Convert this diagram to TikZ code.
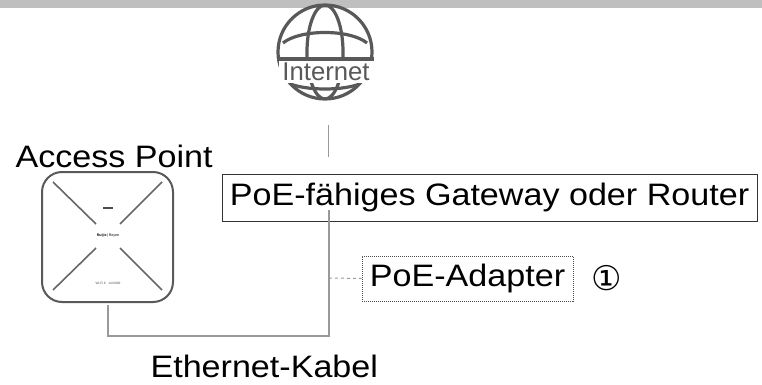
\documentclass[tikz,border=0pt]{standalone}
\usepackage{fontspec}
\setmainfont{Liberation Sans}
\newfontfamily\labelfont[FakeStretch=1.1]{Liberation Sans}
\newfontfamily\numfont{DejaVu Sans}
\usetikzlibrary{positioning}

\tikzset{
  globeline/.style={draw=black!65, line width=3.2pt},
  apframe/.style={draw=black!65, line width=2pt, rounded corners=20pt},
  apslot/.style={draw=black!60, line width=1.6pt},
  cable/.style={draw=black!40, line width=1.2pt},
  labelbox/.style={draw=black!80, line width=1pt, inner sep=0pt},
  biglabel/.style={font=\labelfont\fontsize{31}{38}\selectfont},
}

\begin{document}
\begin{tikzpicture}[x=1pt,y=-1pt]
\useasboundingbox (0,0) rectangle (762,385);
\fill[black!25] (0,0) rectangle (762,8); % top strip

% globe
\begin{scope}
\clip (325,52) circle (47);
\draw[globeline] (325,52) ellipse (18 and 47);
\draw[globeline] (283,43) .. controls (300,29) and (350,29) .. (367,43); %
\draw[globeline] (288,83) .. controls (305,91) and (345,91) .. (362,83);
\end{scope}
\draw[globeline] (325,52) circle (47);
\draw[globeline] (277,59) -- (374,59);
\node[fill=white, inner sep=0pt, minimum width=94pt, minimum height=22pt,
      text=black!65, font=\fontsize{25.7}{28}\selectfont] (net) at (326,72) {Internet};
\coordinate (nettail) at (328,125);
\coordinate (nethead) at (328,157);
\draw[cable, line width=1pt] (nettail) -- (nethead);

% access point
\node[anchor=base west, biglabel] (aplabel) at (12,167) {Access Point};
\draw[apframe] (42,172) rectangle (173,302);
\draw[apslot] (53,182) -- (96,224);
\draw[apslot] (162,182) -- (120,224);
\draw[apslot] (96,248) -- (53,290);
\draw[apslot] (120,248) -- (162,290);
\draw[black!70, line width=1.8pt] (103,208) -- (113,208);
\node[inner sep=0pt, font=\fontsize{3.6}{4}\selectfont] (logo) at (108,236) {\textbf{Ruijie}\,|\,Reyee};
\node[inner sep=0pt, text=black!70, font=\fontsize{3.2}{4}\selectfont] (wifi) at (108,283) {Wi-Fi 6\quad AX3000};
\coordinate (aptap) at (108,305);

% gateway and adapter
\node[labelbox, minimum width=535pt, minimum height=47pt, biglabel] (gw) at (489.5,197.5) {PoE-fähiges Gateway oder Router};
\node[labelbox, draw=black!70, densely dotted, minimum width=211pt, minimum height=45pt, biglabel] (poe) at (467.5,278.5) {PoE-Adapter};
\node[font=\numfont\fontsize{34}{36}\selectfont] (note) at (607,278) {①};

% cable
\coordinate (gwtap) at (329,210);
\coordinate (kink) at (329,336);
\coordinate (poetap) at (329,278);
\draw[cable] (gwtap) -- (kink) -| (aptap);
\draw[cable, line width=1pt, dashed] (poetap) -- (poe.west);
\node[anchor=base west, biglabel] (kabel) at (147,377) {Ethernet-Kabel};
\end{tikzpicture}
\end{document}
